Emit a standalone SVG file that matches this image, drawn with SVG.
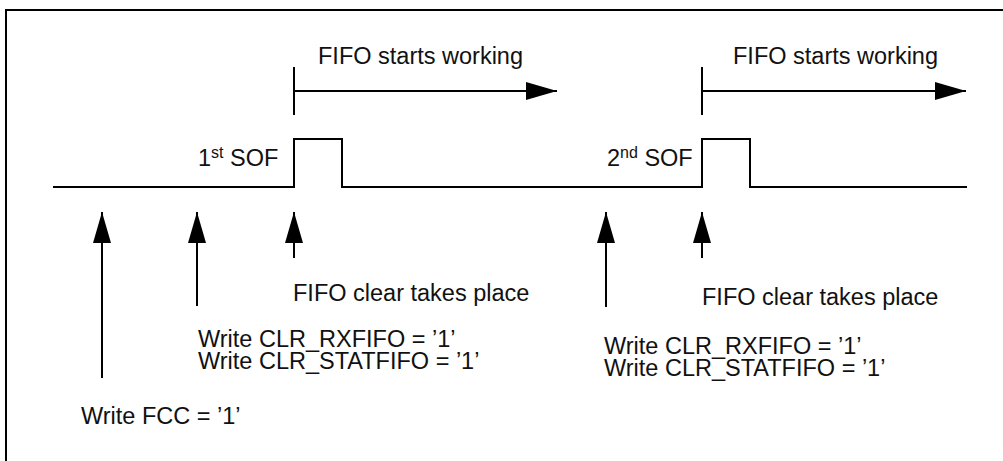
<svg xmlns="http://www.w3.org/2000/svg" width="1003" height="461" viewBox="0 0 1003 461">
<defs>
<style>
.ln{fill:none;stroke:#000;stroke-width:2}
.t{font-family:"Liberation Sans",Arial,sans-serif;font-size:23.5px;fill:#111}
.sup{font-size:16px}
</style>
<marker id="ah" markerUnits="userSpaceOnUse" markerWidth="32" markerHeight="18" refX="31" refY="9" orient="auto">
<path d="M0,0 L31,9 L0,18 Z" fill="#000"/>
</marker>
</defs>
<rect x="0" y="0" width="1003" height="461" fill="#fff"/>
<path class="ln" d="M6,470 V10 H1010"/>
<g id="signal">
<path class="ln" d="M53,187 H294 V139 H342 V187 H702 V139 H750 V187 H967"/>
<text class="t" x="198" y="166">1<tspan class="sup" dy="-8">st</tspan><tspan dy="8"> SOF</tspan></text>
<text class="t" x="607" y="166">2<tspan class="sup" dy="-8">nd</tspan><tspan dy="8"> SOF</tspan></text>
</g>
<g id="fifo-working-1">
<text class="t" x="318" y="64">FIFO starts working</text>
</g>
<g id="fifo-working-2">
<text class="t" x="733" y="64">FIFO starts working</text>
</g>
<g id="label-fcc">
<text class="t" x="81" y="424">Write FCC = ’1’</text>
</g>
<g id="label-clr-1">
<text class="t" x="198" y="347">Write CLR_RXFIFO = ’1’<tspan x="198" dy="22">Write CLR_STATFIFO = ’1’</tspan></text>
</g>
<g id="label-clr-2">
<text class="t" x="604" y="354">Write CLR_RXFIFO = ’1’<tspan x="604" dy="22">Write CLR_STATFIFO = ’1’</tspan></text>
</g>
<g id="label-clear-1">
<text class="t" x="293" y="301">FIFO clear takes place</text>
</g>
<g id="label-clear-2">
<text class="t" x="702" y="305">FIFO clear takes place</text>
</g>
<g id="connectors">
<path class="ln" d="M294,67 V115"/>
<path class="ln" d="M294,91 H557" marker-end="url(#ah)"/>
<path class="ln" d="M702,67 V115"/>
<path class="ln" d="M702,91 H966" marker-end="url(#ah)"/>
<path class="ln" d="M102,378 V212" marker-end="url(#ah)"/>
<path class="ln" d="M197,306 V212" marker-end="url(#ah)"/>
<path class="ln" d="M294,258 V212" marker-end="url(#ah)"/>
<path class="ln" d="M606,307 V212" marker-end="url(#ah)"/>
<path class="ln" d="M702,258 V212" marker-end="url(#ah)"/>
</g>
</svg>
